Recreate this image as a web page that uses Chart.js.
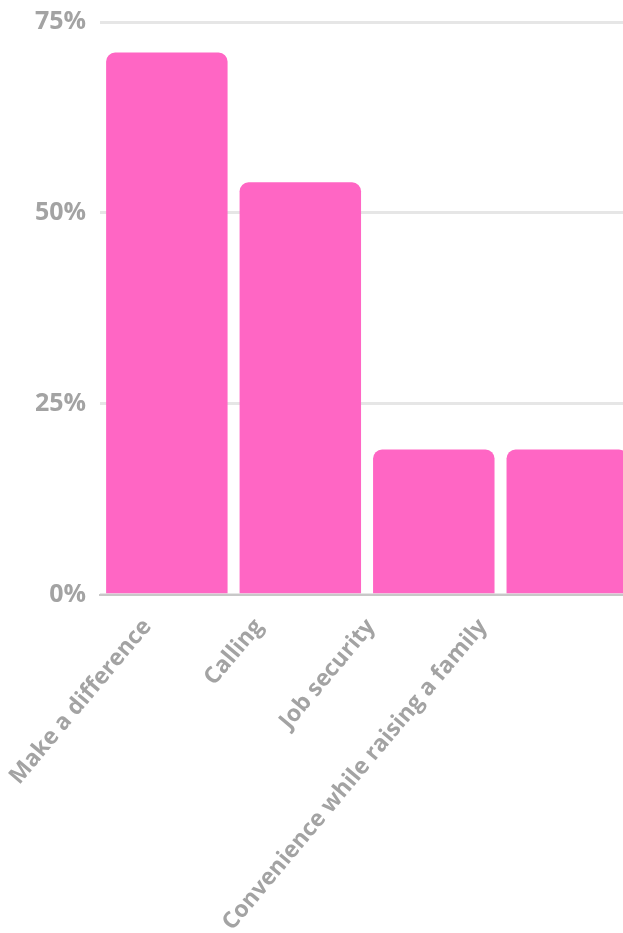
<!DOCTYPE html>
<html>
<head>
<meta charset="utf-8">
<script src="https://cdn.jsdelivr.net/npm/chart.js@4"></script>
<style>
    html, body { margin: 0; padding: 0; background: #fff; overflow: hidden; }
    #wrap { position: absolute; left: 0; top: 0; width: 634px; height: 947px; }
</style>
</head>
<body>
<div id="wrap"><canvas id="reasonsChart"></canvas></div>
<script>
// Survey: reasons for choosing the job (% of respondents)
const categories = ['Make a difference', 'Calling', 'Job security', 'Convenience while raising a family'];
const shares = [71, 54, 19, 19];
const yTicks = [0, 25, 50, 75];

const labelGrey = '#a3a3a3';
const labelFont = { family: 'Open Sans', weight: 'bold' };

const ctx = document.getElementById('reasonsChart').getContext('2d');
new Chart(ctx, {
    type: 'bar',
    data: {
        labels: categories,
        datasets: [{
            label: 'Share',
            data: shares,
            backgroundColor: '#ff66c4',
            borderRadius: 9,
            barPercentage: 0.91,
            categoryPercentage: 1,
        }],
    },
    options: {
        responsive: true,
        maintainAspectRatio: false,
        animation: false,
        layout: { padding: { top: 22, left: 35, right: 0, bottom: 0 } },
        plugins: {
            legend: { display: false },
            tooltip: { enabled: false },
        },
        scales: {
            // category axis positions the bars, drawn labels come from xLabels
            x: { display: false },
            xLabels: {
                type: 'linear',
                position: 'bottom',
                bounds: 'data',
                offset: false,
                min: -0.42,
                max: 4.35,
                afterBuildTicks: (axis) => { axis.ticks = categories.map((c, i) => ({ value: i })); },
                // let the long rotated first label run into the y-axis gutter
                afterFit: (axis) => { axis.paddingLeft = 0; },
                grid: { display: false, offset: false },
                border: { color: '#c8c8c8', width: 2 },
                ticks: {
                    autoSkip: false,
                    padding: 11,
                    color: labelGrey,
                    font: { ...labelFont, size: 23 },
                    minRotation: 50,
                    maxRotation: 50,
                    callback: (v) => categories[v],
                },
            },
            y: {
                min: 0,
                max: 75,
                afterBuildTicks: (axis) => { axis.ticks = yTicks.map(v => ({ value: v })); },
                border: { display: false },
                grid: {
                    color: '#e6e6e6',
                    lineWidth: 3,
                    tickLength: 14,
                    tickColor: 'rgba(0,0,0,0)',
                },
                ticks: {
                    color: labelGrey,
                    padding: 0,
                    font: { ...labelFont, size: 25 },
                    callback: (v) => v + '%',
                },
            },
        },
    },
});
</script>
</body>
</html>
